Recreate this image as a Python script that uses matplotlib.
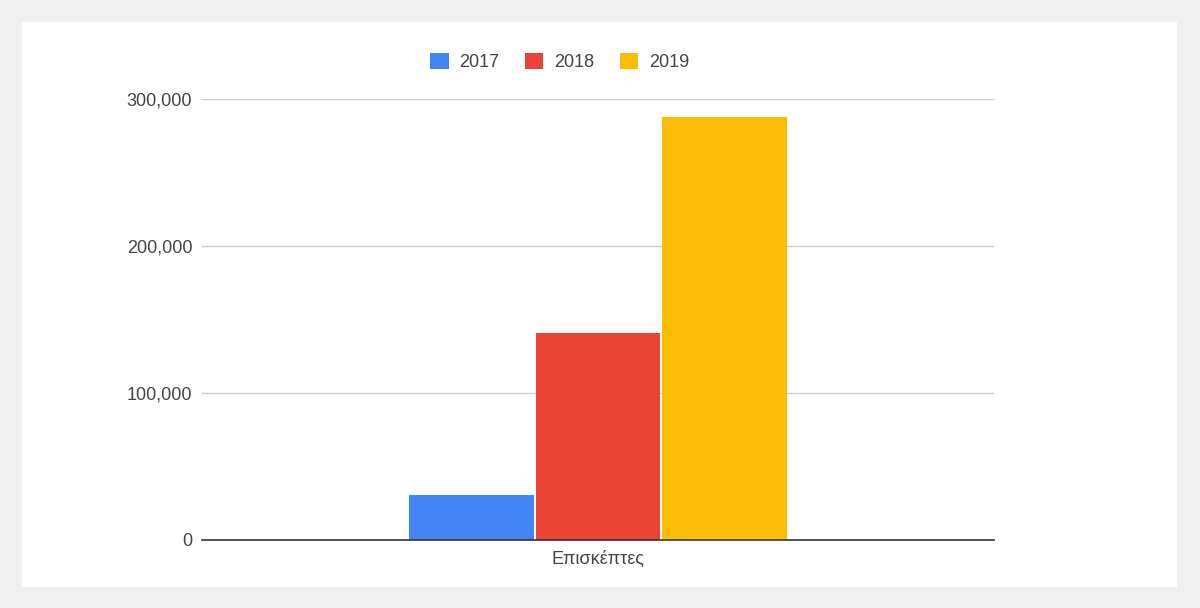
import matplotlib
matplotlib.use("Agg")
import matplotlib.pyplot as plt
from matplotlib.patches import Rectangle, Patch
from matplotlib.ticker import FuncFormatter

categories = ["Επισκέπτες"]
series_names = ["2017", "2018", "2019"]
values = [30600, 140800, 287800]
colors = ["#4285f4", "#ea4335", "#fbbc04"]
yticks = [0, 100000, 200000, 300000]

plt.rcParams['font.family'] = ['Liberation Sans', 'DejaVu Sans']

W, H = 1200, 608
fig = plt.figure(figsize=(W / 100, H / 100), dpi=100)
fig.patch.set_facecolor("#efefef")
fig.add_artist(Rectangle((22 / W, 1 - 587 / H), (1177 - 22) / W, (587 - 22) / H,
                         transform=fig.transFigure, facecolor="white", edgecolor="none", zorder=0))

left, right, top, bottom = 202, 994, 99, 540
ax = fig.add_axes([left / W, 1 - bottom / H, (right - left) / W, (bottom - top) / H])
ax.set_facecolor("none")

step = 0.1597
bw = 0.157
for i, (name, v, c) in enumerate(zip(series_names, values, colors)):
    ax.bar([(i - 1) * step], [v], width=bw, color=c, zorder=3, label=name)

ax.set_xlim(-0.5, 0.5)
ax.set_ylim(0, 300000)
ax.set_yticks(yticks)
ax.yaxis.set_major_formatter(FuncFormatter(lambda v, p: f"{int(v):,}"))
ax.set_xticks([0])
ax.set_xticklabels(categories)
ax.grid(axis="y", color="#cccccc", linewidth=1, zorder=0)
for s in ["top", "right", "left"]:
    ax.spines[s].set_visible(False)
ax.spines["bottom"].set_color("#333333")
ax.spines["bottom"].set_linewidth(1.2)
ax.spines["bottom"].set_zorder(4)
ax.tick_params(axis="both", length=0, labelsize=13, labelcolor="#444444")
ax.tick_params(axis="y", pad=7)
ax.tick_params(axis="x", pad=8)

handles = [Patch(facecolor=c, edgecolor="none") for c in colors]
fig.legend(handles, series_names, loc="center", bbox_to_anchor=(560 / W, 1 - 62 / H),
           ncol=3, frameon=False, fontsize=13, labelcolor="#444444",
           handlelength=1.0, handleheight=1.0, handletextpad=0.6, columnspacing=1.44)

fig.savefig("out.png", dpi=100, facecolor=fig.get_facecolor())
